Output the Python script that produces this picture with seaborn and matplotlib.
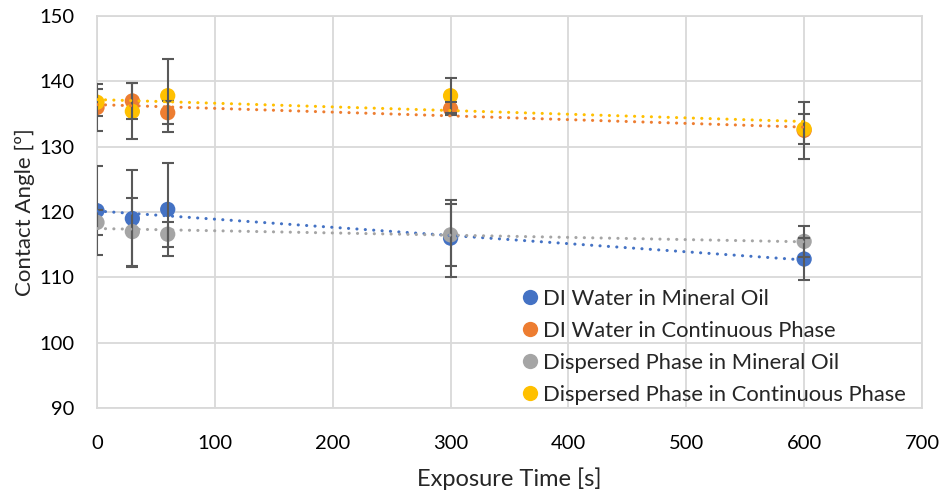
import numpy as np
import pandas as pd
import matplotlib
matplotlib.use("Agg")
import matplotlib.pyplot as plt
import seaborn as sns

# ---- data ----
times = [0, 30, 60, 300, 600]
series_names = [
    "DI Water in Mineral Oil",
    "DI Water in Continuous Phase",
    "Dispersed Phase in Mineral Oil",
    "Dispersed Phase in Continuous Phase",
]
di_water_mineral = [120.2, 119.0, 120.4, 116.0, 112.8]
di_water_mineral_err = [6.8, 7.4, 7.1, 5.9, 3.2]
di_water_continuous = [136.0, 137.0, 135.2, 135.8, 132.5]
di_water_continuous_err = [3.6, 2.7, 1.8, 1.0, 4.4]
dispersed_mineral = [118.4, 117.0, 116.6, 116.5, 115.5]
dispersed_mineral_err = [1.9, 5.2, 1.9, 4.8, 2.4]
dispersed_continuous = [136.8, 135.4, 137.8, 137.8, 132.7]
dispersed_continuous_err = [2.1, 4.3, 5.6, 2.7, 2.3]
colors = ["#4472C4", "#ED7D31", "#A5A5A5", "#FFC000"]

values = [di_water_mineral, di_water_continuous, dispersed_mineral, dispersed_continuous]
errors = [di_water_mineral_err, di_water_continuous_err, dispersed_mineral_err, dispersed_continuous_err]

rows = []
for name, vals, errs in zip(series_names, values, errors):
    for t, v, e in zip(times, vals, errs):
        rows.append({"time": t, "angle": v, "err": e, "series": name})
df = pd.DataFrame(rows)

sns.set_theme(style="white")
plt.rcParams["font.family"] = ["Lato", "DejaVu Sans"]

fig = plt.figure(figsize=(9.44, 4.95), dpi=100)
ax = fig.add_axes([97 / 944, 1 - 408 / 495, (922 - 97) / 944, (408 - 16) / 495])

grid_c = "#D9D9D9"
ax.set_axisbelow(True)
ax.grid(True, color=grid_c, linewidth=1.3)
for s in ax.spines.values():
    s.set_color(grid_c)
    s.set_linewidth(1.3)

sns.scatterplot(data=df, x="time", y="angle", hue="series", hue_order=series_names,
                palette=colors, s=121, edgecolor="none", ax=ax, zorder=3, legend=True)

for name, c in zip(series_names, colors):
    sub = df[df.series == name]
    ax.errorbar(sub.time, sub.angle, yerr=sub.err, fmt="none", ecolor="#595959",
                elinewidth=1.5, capsize=4.5, capthick=1.5, zorder=4)

for name, c in zip(series_names, colors):
    sub = df[df.series == name]
    sns.regplot(data=sub, x="time", y="angle", scatter=False, ci=None, ax=ax,
                line_kws=dict(color=c, linestyle=(0, (0.05, 2.7)), linewidth=2.2,
                              dash_capstyle="round", zorder=5))

ax.set_xlim(0, 700)
ax.set_ylim(90, 150)
ax.set_xticks(np.arange(0, 701, 100))
ax.set_yticks(np.arange(90, 151, 10))
ax.tick_params(axis="both", length=0, labelsize=14.5, colors="#000000")
ax.tick_params(axis="y", pad=16)
ax.tick_params(axis="x", pad=19.5)
ax.set_xlabel("Exposure Time [s]", fontsize=17, labelpad=11)
ax.set_ylabel("Contact Angle [º]", fontsize=16, labelpad=3)

handles, labels = ax.get_legend_handles_labels()
leg = ax.legend(handles, labels, loc="lower right", bbox_to_anchor=(0.981, 0.008),
                frameon=False, fontsize=15.8, handlelength=0.8, handletextpad=0.2,
                labelspacing=0.55, markerscale=1.0, borderaxespad=0.0, borderpad=0.0)

fig.savefig("out.png", dpi=100)
